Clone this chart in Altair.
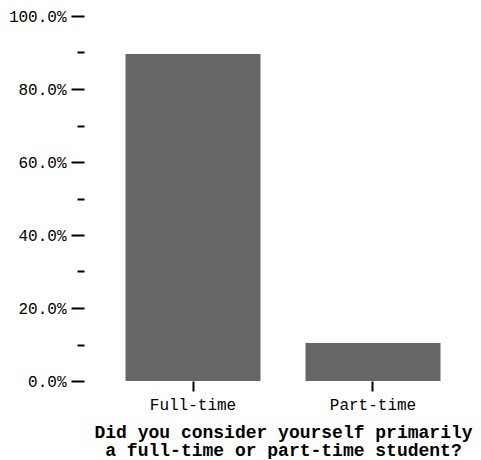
import altair as alt
import pandas as pd

categories = ["Full-time", "Part-time"]
shares = [0.896, 0.104]
y_ticks = [0.0, 0.1, 0.2, 0.3, 0.4, 0.5, 0.6, 0.7, 0.8, 0.9, 1.0]
title_lines = ["Did you consider yourself primarily", "a full-time or part-time student?"]

df = pd.DataFrame({"status": categories, "share": shares})

FONT = "Liberation Mono"

chart = (
    alt.Chart(df)
    .mark_bar(color="#666666")
    .encode(
        x=alt.X(
            "status:N",
            sort=categories,
            scale=alt.Scale(paddingInner=0.25, paddingOuter=0.1417),
            axis=alt.Axis(
                title=title_lines,
                labelAngle=0,
                domain=False,
                tickSize=10,
                tickWidth=2,
                tickColor="#000000",
                labelPadding=5,
                labelFont=FONT,
                labelFontSize=16,
                labelColor="#000000",
                titleFont=FONT,
                titleFontSize=18,
                titleFontWeight="bold",
                titleColor="#000000",
                titleLineHeight=18,
                titlePadding=11,
            ),
        ),
        y=alt.Y(
            "share:Q",
            scale=alt.Scale(domain=[0, 1]),
            axis=alt.Axis(
                title=None,
                values=y_ticks,
                format=".1%",
                labelExpr="round(datum.value*100) % 20 === 0 ? datum.label : ''",
                domain=False,
                grid=False,
                offset=16,
                tickSize={"condition": {"test": "round(datum.value*100) % 20 === 0", "value": 13}, "value": 7},
                tickWidth=2,
                tickColor="#000000",
                labelPadding=5,
                labelFont=FONT,
                labelFontSize=16,
                labelColor="#000000",
            ),
        ),
    )
    .properties(width=366, height=365, padding=0)
    .configure_view(stroke=None)
)

chart.save("out.html", embed_options={"renderer": "svg", "actions": False})
